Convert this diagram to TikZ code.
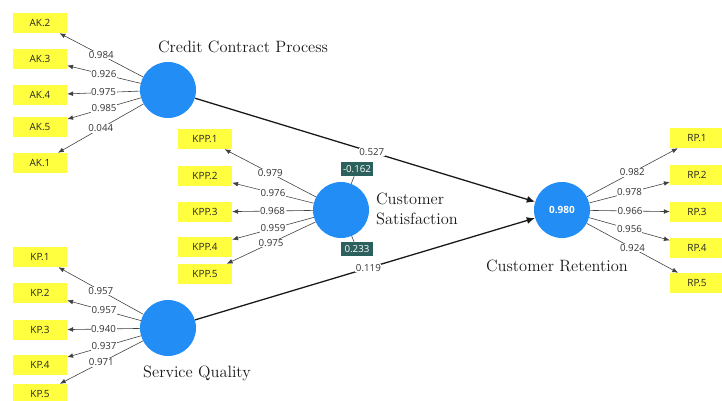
\documentclass[tikz,border=0pt]{standalone}
\usepackage{fontspec}
\setsansfont{Open Sans}
\usepackage{xcolor}
\usetikzlibrary{arrows.meta,positioning}
\definecolor{lvblue}{RGB}{33,141,245}
\definecolor{indyellow}{RGB}{255,255,64}
\definecolor{coefteal}{RGB}{44,96,92}
\tikzset{
    latent/.style={circle,fill=lvblue,minimum size=1.68cm,inner sep=0pt,
        text=white,font=\sffamily\bfseries\fontsize{8.5}{9}\selectfont},
    indicator/.style={fill=indyellow,minimum width=1.62cm,minimum height=0.6cm,
        inner sep=0pt,font=\sffamily\fontsize{8.5}{9}\selectfont,text=black!85},
    loading/.style={-{Latex[length=5pt,width=4pt]},draw=black!75,line width=0.5pt},
    structural/.style={-{Latex[length=7pt,width=6pt]},draw=black!90,line width=1.1pt},
    coef/.style={fill=white,inner sep=0.5pt,text=black!80,
        font=\sffamily\fontsize{8.3}{9}\selectfont},
    rsq/.style={fill=coefteal,text=white,minimum width=0.95cm,minimum height=0.42cm,
        inner sep=0pt,font=\sffamily\fontsize{8.3}{9}\selectfont},
    caption/.style={text=black!90,font=\fontsize{14}{16.5}\selectfont}
}
\begin{document}
\begin{tikzpicture}[x=0.03cm,y=-0.03cm]
    \clip (0,0) rectangle (722,401);
    \fill[white] (0,0) rectangle (722,401);

    % latent variables
    \node[latent] (ccp) at (168,90) {};
    \node[latent] (cs) at (341,210) {};
    \node[latent] (sq) at (168,328) {};
    \node[latent] (cr) at (562,210) {0.980};

    \node[caption] (ccplabel) at (243,47) {Credit Contract Process};
    \node[caption,anchor=west,align=left] (cslabel) at (372,209) {Customer\\Satisfaction};
    \node[caption] (sqlabel) at (197,373) {Service Quality};
    \node[caption] (crlabel) at (557,266) {Customer Retention};

    % indicators
    \node[indicator] (ak2) at (40,23) {AK.2};
    \node[indicator] (ak3) at (40,59) {AK.3};
    \node[indicator] (ak4) at (40,95) {AK.4};
    \node[indicator] (ak5) at (40,127) {AK.5};
    \node[indicator] (ak1) at (40,163) {AK.1};

    \node[indicator] (kpp1) at (205,139) {KPP.1};
    \node[indicator] (kpp2) at (205,176) {KPP.2};
    \node[indicator] (kpp3) at (205,212) {KPP.3};
    \node[indicator] (kpp4) at (205,247) {KPP.4};
    \node[indicator] (kpp5) at (205,274) {KPP.5};

    \node[indicator] (kp1) at (40,257) {KP.1};
    \node[indicator] (kp2) at (40,293) {KP.2};
    \node[indicator] (kp3) at (40,330) {KP.3};
    \node[indicator] (kp4) at (40,365) {KP.4};
    \node[indicator] (kp5) at (40,394) {KP.5};

    \node[indicator] (rp1) at (697,138) {RP.1};
    \node[indicator] (rp2) at (697,175) {RP.2};
    \node[indicator] (rp3) at (697,212) {RP.3};
    \node[indicator] (rp4) at (697,248) {RP.4};
    \node[indicator] (rp5) at (697,283) {RP.5};

    % outer loadings
    \draw[loading] (ccp) to node[coef] {0.984} (ak2);
    \draw[loading] (ccp) to node[coef] {0.926} (ak3);
    \draw[loading] (ccp) to node[coef] {0.975} (ak4);
    \draw[loading] (ccp) to node[coef] {0.985} (ak5);
    \draw[loading] (ccp) to node[coef] {0.044} (ak1);

    \draw[loading] (cs) to node[coef] {0.979} (kpp1);
    \draw[loading] (cs) to node[coef] {0.976} (kpp2);
    \draw[loading] (cs) to node[coef] {0.968} (kpp3);
    \draw[loading] (cs) to node[coef] {0.959} (kpp4);
    \draw[loading] (cs) to node[coef] {0.975} (kpp5);

    \draw[loading] (sq) to node[coef] {0.957} (kp1);
    \draw[loading] (sq) to node[coef] {0.957} (kp2);
    \draw[loading] (sq) to node[coef] {0.940} (kp3);
    \draw[loading] (sq) to node[coef] {0.937} (kp4);
    \draw[loading] (sq) to node[coef] {0.971} (kp5);

    \draw[loading] (cr) to node[coef] {0.982} (rp1);
    \draw[loading] (cr) to node[coef] {0.978} (rp2);
    \draw[loading] (cr) to node[coef] {0.966} (rp3);
    \draw[loading] (cr) to node[coef] {0.956} (rp4);
    \draw[loading] (cr) to node[coef] {0.924} (rp5);

    % inner model
    \draw[structural] (ccp) to node[coef,pos=0.52] {0.527} (cr);
    \draw[structural] (sq) to node[coef,pos=0.51] {0.119} (cr);

    \node[rsq] (cstop) at (357,169) {-0.162};
    \node[rsq] (csbottom) at (357,249) {0.233};
    \draw[draw=black!75,line width=0.5pt] (cstop) -- (cs);
    \draw[draw=black!75,line width=0.5pt] (csbottom) -- (cs);
\end{tikzpicture}
\end{document}
